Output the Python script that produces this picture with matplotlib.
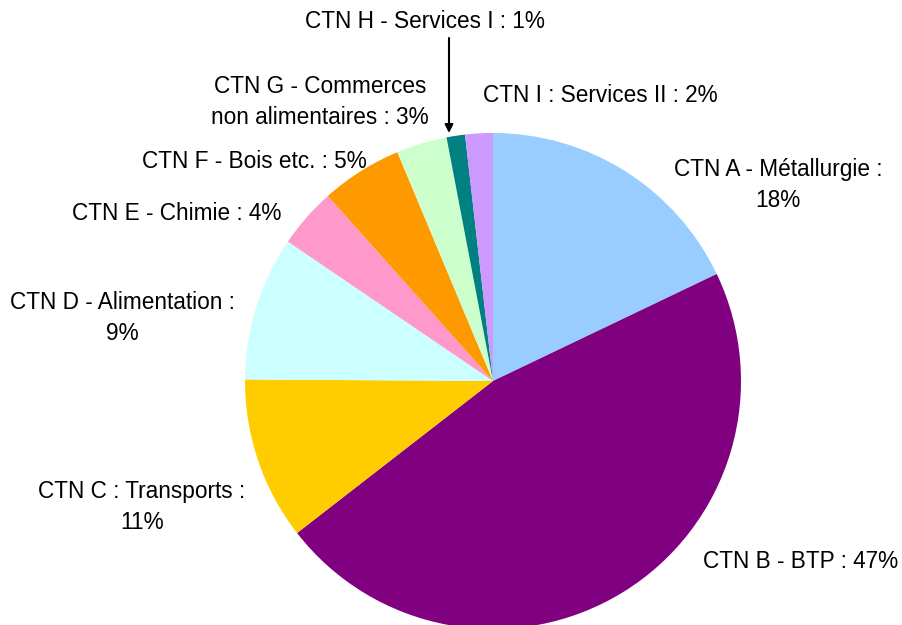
import matplotlib.pyplot as plt

plt.rcParams['font.family'] = ['Liberation Sans', 'DejaVu Sans']

# slice shares (clockwise from the top)
secteurs = ['A', 'B', 'C', 'D', 'E', 'F', 'G', 'H', 'I']
parts = [17.9, 46.6, 10.6, 9.4, 3.9, 5.3, 3.3, 1.2, 1.8]
couleurs = ['#99CCFF', '#800080', '#FFCC00', '#CCFFFF', '#FF99CC',
            '#FF9900', '#CCFFCC', '#008080', '#CC99FF']
etiquettes = ['CTN A - Métallurgie :\n18%',
              'CTN B - BTP : 47%',
              'CTN C : Transports :\n11%',
              'CTN D - Alimentation :\n9%',
              'CTN E - Chimie : 4%',
              'CTN F - Bois etc. : 5%',
              'CTN G - Commerces\nnon alimentaires : 3%',
              'CTN H - Services I : 1%',
              'CTN I : Services II : 2%']
# label centres in pixel coords (x, y from top)
pos_etiquettes = [(778, 185), (801, 562), (142, 507), (122, 318), (177, 214),
                  (254, 162), (320, 102), (425, 22), (600, 96)]

W, H = 902, 625
fig = plt.figure(figsize=(W / 100, H / 100), dpi=100)
ax = fig.add_axes([0, 0, 1, 1])

cx, cy, r = 493, 381, 248
ax.pie(parts, colors=couleurs, startangle=90, counterclock=False,
       center=(cx, H - cy), radius=r, wedgeprops=dict(linewidth=0))

for txt, (x, y) in zip(etiquettes, pos_etiquettes):
    ax.text(x, H - y, txt, ha='center', va='center', fontsize=16.3,
            linespacing=1.45, color='black')

# arrow for the small H slice
ax.annotate('', xy=(449, H - 133), xytext=(449, H - 38),
            arrowprops=dict(arrowstyle='-|>', color='black', lw=1.5,
                            mutation_scale=12, shrinkA=0, shrinkB=0))

ax.set_xlim(0, W)
ax.set_ylim(0, H)
ax.set_aspect('auto')
ax.axis('off')

fig.savefig('out.png', dpi=100, facecolor='white')
